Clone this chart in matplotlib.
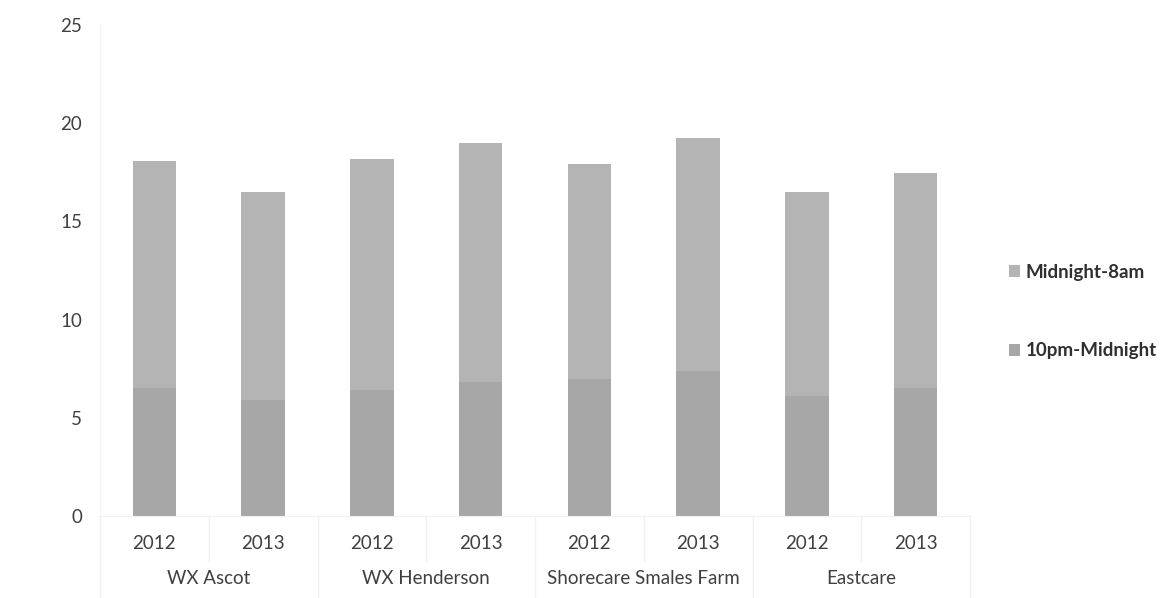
import matplotlib.pyplot as plt
import numpy as np

plt.rcParams['font.family'] = ['Lato', 'DejaVu Sans']

# Data
groups = ['WX Ascot', 'WX Henderson', 'Shorecare Smales Farm', 'Eastcare']
years = ['2012', '2013']
ten_to_midnight = [6.5, 5.9, 6.4, 6.8, 7.0, 7.4, 6.1, 6.5]
midnight_to_8am = [11.55, 10.6, 11.8, 12.2, 10.9, 11.85, 10.4, 10.95]

n = len(ten_to_midnight)
x = np.arange(n)
text_col = '#404040'

fig = plt.figure(figsize=(11.61, 5.98), dpi=100)
ax = fig.add_axes([100 / 1161, (598 - 516) / 598, 870 / 1161, 491 / 598])

ax.bar(x, ten_to_midnight, width=0.4, color='#a7a7a7', label='10pm-Midnight')
ax.bar(x, midnight_to_8am, width=0.4, bottom=ten_to_midnight,
       color='#b4b4b4', label='Midnight-8am')

ax.set_xlim(-0.5, n - 0.5)
ax.set_ylim(0, 25)
ax.set_yticks(range(0, 26, 5))
ax.tick_params(axis='y', length=0, pad=13, labelsize=13.5, labelcolor=text_col)
ax.set_xticks([])
for s in ['top', 'right', 'left']:
    ax.spines[s].set_visible(False)
ax.spines['bottom'].set_color('#f0f0f0')

# two level category labels
for i in range(n):
    ax.text(i, -1.4, years[i % 2], ha='center', va='center',
            fontsize=13.5, color=text_col, clip_on=False)
for g, name in enumerate(groups):
    ax.text(2 * g + 0.5, -3.2, name, ha='center', va='center',
            fontsize=13.5, color=text_col, clip_on=False)

# faint separators
for i in range(n + 1):
    bottom = -4.2 if i % 2 == 0 else -2.3
    ax.plot([i - 0.5, i - 0.5], [0, bottom], color='#f0f0f0', lw=1, clip_on=False)
ax.plot([-0.5, -0.5], [0, 25], color='#f4f4f4', lw=1)

handles, labels = ax.get_legend_handles_labels()
leg = fig.legend(handles[::-1], labels[::-1], loc='center left',
                 bbox_to_anchor=(992 / 1161, 0.479), frameon=False,
                 handlelength=0.6, handleheight=0.6, handletextpad=0.3,
                 labelspacing=3.3, prop={'size': 13.5, 'weight': 'bold'})
for t in leg.get_texts():
    t.set_color('#303030')

fig.savefig('out.png', dpi=100)
